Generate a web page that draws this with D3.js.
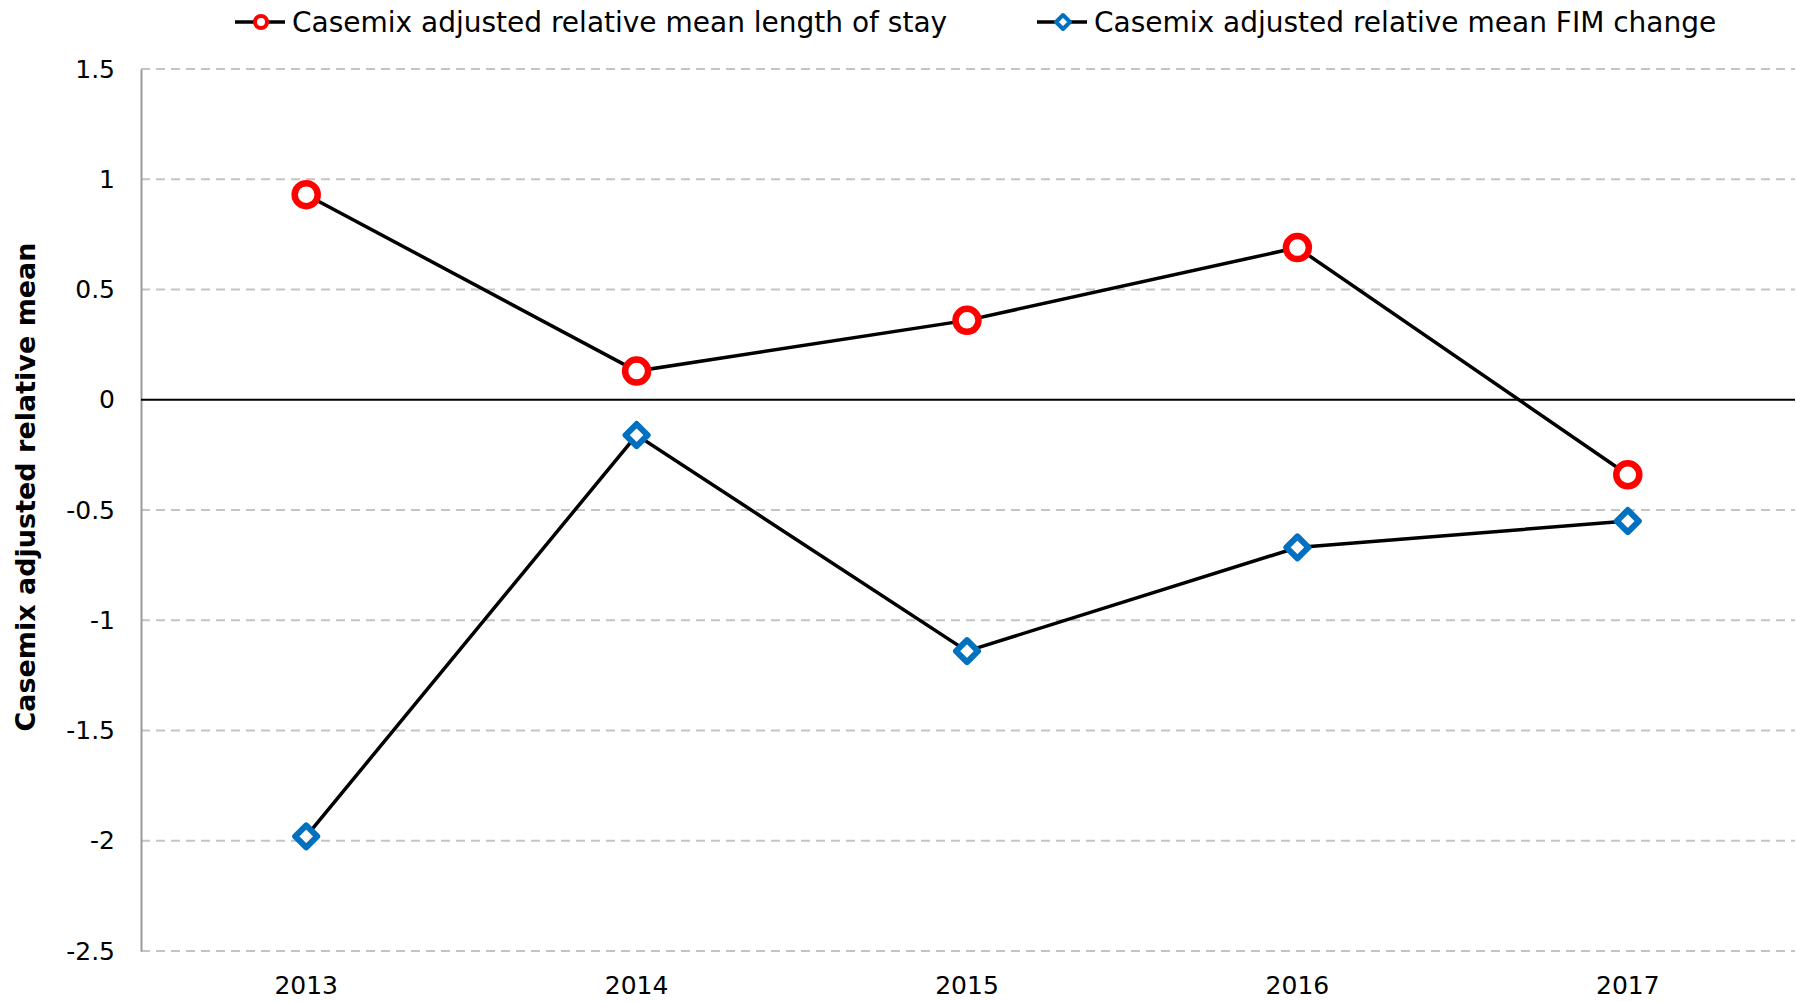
<!DOCTYPE html>
<html>
<head>
<meta charset="utf-8">
<script src="https://cdn.jsdelivr.net/npm/d3@7"></script>
<style>
  body { margin: 0; background: #fff; }
  text { font-family: "DejaVu Sans", sans-serif; }
</style>
</head>
<body>
<div id="chart"></div>
<script>
var years = ['2013', '2014', '2015', '2016', '2017']
var losValues = [0.93, 0.13, 0.36, 0.69, -0.34]
var fimValues = [-1.98, -0.16, -1.14, -0.67, -0.55]
var yTicks = [1.5, 1, 0.5, 0, -0.5, -1, -1.5, -2, -2.5]
var seriesNames = ['Casemix adjusted relative mean length of stay', 'Casemix adjusted relative mean FIM change']

var width = 1796, height = 1002
var margin = { top: 69, right: 1, bottom: 51, left: 141 }

var svg = d3.select('#chart').append('svg')
    .attr('width', width)
    .attr('height', height)

var x = d3.scaleBand()
    .domain(years)
    .range([margin.left, width - margin.right - 2])

var y = d3.scaleLinear()
    .domain([-2.5, 1.5])
    .range([height - margin.bottom, margin.top])

// grid lines
svg.append('g')
    .selectAll('line')
    .data(yTicks.filter(function (d) { return d !== 0 }))
    .enter()
    .append('line')
    .attr('x1', margin.left)
    .attr('x2', width - margin.right)
    .attr('y1', function (d) { return y(d) })
    .attr('y2', function (d) { return y(d) })
    .style('stroke', '#c4c4c4')
    .style('stroke-width', 2)
    .style('stroke-dasharray', '9,6')

// y axis
var yAxis = d3.axisLeft(y)
    .tickValues(yTicks)
    .tickSize(0)
    .tickPadding(26)
    .tickFormat(function (d) { return String(d) })

var gy = svg.append('g')
    .attr('transform', 'translate(' + margin.left + ',0)')
    .call(yAxis)
gy.select('.domain').style('stroke', '#9a9a9a').style('stroke-width', 2)
gy.selectAll('text')
    .style('font-size', '25px')
    .style('fill', '#000')
    .style('font-family', '"DejaVu Sans", sans-serif')

// zero line
svg.append('line')
    .attr('x1', margin.left)
    .attr('x2', width - margin.right)
    .attr('y1', y(0))
    .attr('y2', y(0))
    .style('stroke', '#000')
    .style('stroke-width', 2)

// x axis labels
var xAxis = d3.axisBottom(x).tickSize(0).tickPadding(25)
var gx = svg.append('g')
    .attr('transform', 'translate(0,' + (height - margin.bottom) + ')')
    .call(xAxis)
gx.select('.domain').remove()
gx.selectAll('text')
    .style('font-size', '25px')
    .style('fill', '#000')
    .style('font-family', '"DejaVu Sans", sans-serif')

// y label
svg.append('text')
    .attr('transform', 'translate(35,' + 487 + ') rotate(-90)')
    .attr('text-anchor', 'middle')
    .style('font-size', '27px')
    .style('font-weight', 'bold')
    .text('Casemix adjusted relative mean')

var cx = function (d, i) { return x(years[i]) + x.bandwidth() / 2 }

var line = d3.line()
    .x(cx)
    .y(function (d) { return y(d) })

svg.append('path')
    .datum(losValues)
    .attr('d', line)
    .style('fill', 'none')
    .style('stroke', '#000')
    .style('stroke-width', 3.5)

svg.append('path')
    .datum(fimValues)
    .attr('d', line)
    .style('fill', 'none')
    .style('stroke', '#000')
    .style('stroke-width', 3.5)

svg.append('g')
    .selectAll('circle')
    .data(losValues)
    .enter()
    .append('circle')
    .attr('cx', cx)
    .attr('cy', function (d) { return y(d) })
    .attr('r', 11.5)
    .style('fill', '#fff')
    .style('stroke', '#ff0000')
    .style('stroke-width', 6.5)

var diamond = function (s) {
    return 'M0,' + (-s) + 'L' + s + ',0L0,' + s + 'L' + (-s) + ',0Z'
}

svg.append('g')
    .selectAll('path')
    .data(fimValues)
    .enter()
    .append('path')
    .attr('transform', function (d, i) { return 'translate(' + cx(d, i) + ',' + y(d) + ')' })
    .attr('d', diamond(11))
    .style('fill', '#fff')
    .style('stroke', '#0070c0')
    .style('stroke-width', 6)
    .style('stroke-linejoin', 'round')

// legend
var legend = svg.append('g')
var legendX = [261, 1063]

legendX.forEach(function (lx, i) {
    var g = legend.append('g').attr('transform', 'translate(' + lx + ',22)')
    g.append('line')
        .attr('x1', -26).attr('x2', 24)
        .style('stroke', '#000').style('stroke-width', 3.5)
    if (i === 0) {
        g.append('circle').attr('r', 6)
            .style('fill', '#fff').style('stroke', '#ff0000').style('stroke-width', 4)
    } else {
        g.append('path').attr('d', diamond(7))
            .style('fill', '#fff').style('stroke', '#0070c0').style('stroke-width', 4)
            .style('stroke-linejoin', 'round')
    }
    g.append('text')
        .attr('x', 31)
        .attr('y', 10)
        .style('font-size', '28px')
        .text(seriesNames[i])
})
</script>
</body>
</html>
